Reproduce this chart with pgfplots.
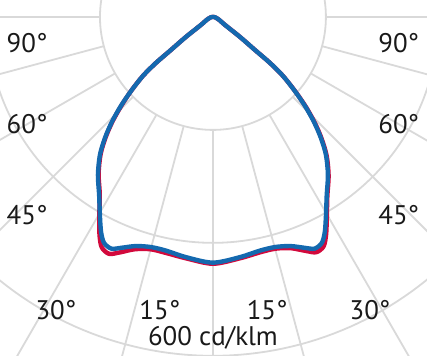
\documentclass[border=0pt]{standalone}
\usepackage{pgfplots}
\pgfplotsset{compat=1.18}
\usepackage{pgfplotstable}
\usepackage{fontspec}
\setmainfont{PT Sans}
\definecolor{gridgray}{HTML}{D9D9D9}
\definecolor{ldcblue}{HTML}{1469AF}
\definecolor{ldcred}{HTML}{D2093C}

% gamma (deg from nadir, left negative), intensity (cd/klm)
\pgfplotstableread{
g r
-90 0
-80 4
-65 12
-56.3 26
-53.5 60
-51.8 95
-51.1 130
-49.9 162
-47.9 195
-45.95 225
-43.9 256
-41.75 285
-39.3 314
-36.05 344
-32.6 372
-29.7 406
-27.5 435
-25.75 453
-23.7 458
-21.7 449
-18.6 434
-15.1 426
-11.4 426
-6.4 430
0 437
6.4 430
11.4 425
15.1 425
18.6 432
21.7 446
23.7 455
25.75 451
27.5 434
29.7 407
32.6 376
36.05 348
39.3 318
41.75 289
43.9 260
45.95 229
47.9 196
49.9 162
51.1 130
51.8 95
53.5 60
56.3 26
65 12
80 4
90 0
}\reddata

\pgfplotstableread{
g r
-90 0
-80 4
-65 12
-56.3 26
-53.5 60
-51.8 95
-51.1 130
-49.9 162
-47.9 195
-45.95 227
-43.9 258
-41.75 287
-39.3 316
-36.05 346
-32.6 374
-29.7 404
-27.5 429
-25.75 444
-23.7 448
-21.7 440
-18.6 428
-15.1 422
-11.4 422
-6.4 428
0 435
6.4 428
11.4 422
15.1 422
18.6 428
21.7 440
23.7 448
25.75 444
27.5 429
29.7 404
32.6 374
36.05 346
39.3 316
41.75 287
43.9 258
45.95 227
47.9 195
49.9 162
51.1 130
51.8 95
53.5 60
56.3 26
65 12
80 4
90 0
}\bluedata

\begin{document}
\begin{tikzpicture}
\begin{axis}[
  x=0.565bp, y=0.565bp,
  xmin=-377, xmax=379, ymin=-600, ymax=30,
  hide axis, clip=true,
]
\pgfplotsinvokeforeach{200,400,600}{
  \addplot[gridgray, line width=1.8bp, domain=0:360, samples=241, data cs=polar] (x,#1);
}
\pgfplotsinvokeforeach{-180,-165,...,0}{
  \addplot[gridgray, line width=1.8bp, data cs=polar] coordinates {(#1,200) (#1,900)};
}
\addplot[ldcred, line width=4.4bp, smooth, tension=0.5, line join=round, line cap=round, data cs=polar]
  table[x expr=\thisrow{g}-90, y=r]{\reddata};
\addplot[ldcblue, line width=4.4bp, smooth, tension=0.5, line join=round, line cap=round, data cs=polar]
  table[x expr=\thisrow{g}-90, y=r]{\bluedata};

\tikzset{lbl/.style={font=\fontsize{27}{30}\selectfont, text=black!90, inner sep=0pt}}
\node[lbl] at (axis cs:-329,-46) {90°};
\node[lbl] at (axis cs:329,-46) {90°};
\node[lbl] at (axis cs:-329,-190) {60°};
\node[lbl] at (axis cs:329,-190) {60°};
\node[lbl] at (axis cs:-329,-351) {45°};
\node[lbl] at (axis cs:329,-351) {45°};
\node[lbl] at (axis cs:-278,-519) {30°};
\node[lbl] at (axis cs:278,-519) {30°};
\node[lbl] at (axis cs:-94,-519) {15°};
\node[lbl] at (axis cs:96,-519) {15°};
\node[lbl] at (axis cs:0,-568) {600 cd/klm};

\coordinate (BL) at (axis cs:-377,-600);
\coordinate (TR) at (axis cs:379,30);
\end{axis}
\pgfresetboundingbox
\path[use as bounding box] (BL) rectangle (TR);
\end{tikzpicture}
\end{document}
